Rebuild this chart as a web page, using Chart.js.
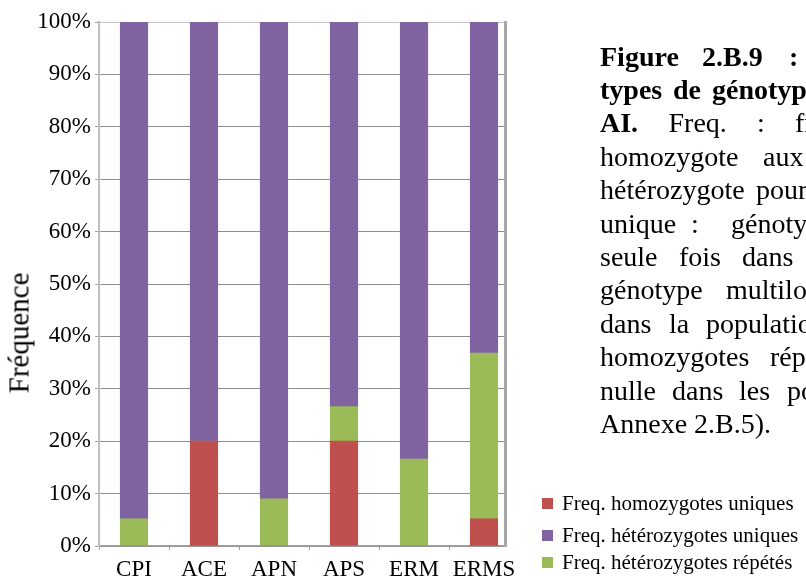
<!DOCTYPE html>
<html><head><meta charset="utf-8">
<script src="https://cdn.jsdelivr.net/npm/chart.js@4.4.0/dist/chart.umd.min.js"></script>
<style>
html,body{margin:0;padding:0;background:#fff;overflow:hidden;}
#wrap{position:relative;width:806px;height:576px;overflow:hidden;font-family:'Liberation Serif','Times New Roman',serif;color:#000;}
#c{position:absolute;left:0;top:0;}
.w{position:absolute;font-size:28px;line-height:28px;white-space:nowrap;}
.b{font-weight:bold;}
#ytitle{position:absolute;font-size:29px;line-height:29px;white-space:nowrap;left:19px;top:333px;transform:translate(-50%,-50%) rotate(-90deg);}
.lbox{position:absolute;width:11px;height:11px;}
.ltxt{position:absolute;font-size:21px;line-height:21px;white-space:nowrap;}
</style></head>
<body>
<div id="wrap">
  <canvas id="c" width="806" height="576"></canvas>
  <div id="ytitle">Fréquence</div>
  <div id="caption"></div>
  <div id="legend"></div>
</div>
<script>
const categories = ['CPI', 'ACE', 'APN', 'APS', 'ERM', 'ERMS'];
const homozygotesUniques   = [0,    20, 0,    20,   0,    5.2];
const heterozygotesRepetes = [5.2,  0,  9.0,  6.6,  16.6, 31.6];
const heterozygotesUniques = [94.8, 80, 91.0, 73.4, 83.4, 63.2];
const yTickLabels = ['0%','10%','20%','30%','40%','50%','60%','70%','80%','90%','100%'];
const seriesLabels = ['Freq. homozygotes uniques', 'Freq. hétérozygotes uniques', 'Freq. hétérozygotes répétés'];
const seriesColors = ['#C0504D', '#8064A2', '#9BBB59'];

const FONT = "'Liberation Serif', 'Times New Roman', serif";
const toPoints = arr => arr.map((v, i) => ({x: i, y: v}));

const datasets = [
  {label: seriesLabels[0], data: toPoints(homozygotesUniques), backgroundColor: seriesColors[0]},
  {label: seriesLabels[2], data: toPoints(heterozygotesRepetes), backgroundColor: seriesColors[2]},
  {label: seriesLabels[1], data: toPoints(heterozygotesUniques), backgroundColor: seriesColors[1]}
];

new Chart(document.getElementById('c'), {
  type: 'bar',
  data: {datasets},
  options: {
    responsive: false,
    animation: false,
    devicePixelRatio: 1,
    layout: {padding: {left: 0, top: 22, right: 301, bottom: 0}},
    plugins: {legend: {display: false}, tooltip: {enabled: false}},
    datasets: {bar: {barThickness: 27.5, borderWidth: 0}},
    scales: {
      x: {
        type: 'linear', stacked: true, min: -0.5, max: 5.3, offset: false, bounds: 'data',
        afterBuildTicks: s => { s.ticks = categories.map((c, i) => ({value: i})); },
        afterFit: s => { s.height = 30; },
        grid: {display: true, offset: true, drawOnChartArea: false, tickLength: 4, tickColor: '#a0a0a0', lineWidth: 1},
        border: {color: '#a0a0a0', width: 1.5},
        ticks: {autoSkip: false, maxRotation: 0, minRotation: 0, padding: 6, color: '#000',
                font: {family: FONT, size: 23},
                callback: v => (categories[v] !== undefined ? categories[v] : '')}
      },
      y: {
        stacked: true, min: 0, max: 100,
        afterFit: s => { s.width = 99; },
        ticks: {stepSize: 10, padding: 4, color: '#000', font: {family: FONT, size: 23},
                callback: (v, i) => yTickLabels[i]},
        grid: {color: c => (c.tick && c.tick.value === 100 ? '#c4c4c4' : '#8e8e8e'), tickLength: 4, lineWidth: 1, tickColor: '#a0a0a0'},
        border: {color: '#c0c0c0', width: 2}
      },
      yRight: {
        position: 'right', min: 0, max: 100,
        afterFit: s => { s.width = 0; },
        ticks: {display: false},
        grid: {display: false, drawTicks: false},
        border: {display: true, color: '#a6a6a6', width: 3}
      }
    }
  }
});

// Legend (HTML), order as in reference
const legend = document.getElementById('legend');
const legendRows = [503, 535, 562];
seriesLabels.forEach((lab, i) => {
  const box = document.createElement('div');
  box.className = 'lbox';
  box.style.left = '542px';
  box.style.top = (legendRows[i] - 5.5) + 'px';
  box.style.background = seriesColors[i];
  legend.appendChild(box);
  const t = document.createElement('div');
  t.className = 'ltxt';
  t.style.left = '562px';
  t.style.top = (legendRows[i] - 10) + 'px';
  t.textContent = lab;
  legend.appendChild(t);
});

// Caption text (justified lines, clipped at right edge)
const captionLines = [
  [['Figure', 600, 1], ['2.B.9', 702, 1], [':', 789, 1]],
  [['types', 600, 1], ['de', 673, 1], ['génotypes', 712, 1]],
  [['AI.', 600, 1], ['Freq.', 668.5, 0], [':', 757, 0], ['fréquence', 795, 0]],
  [['homozygote', 600, 0], ['aux', 763, 0]],
  [['hétérozygote', 600, 0], ['pour', 756, 0]],
  [['unique', 600, 0], [':', 691, 0], ['génotype', 731, 0]],
  [['seule', 600, 0], ['fois', 679, 0], ['dans', 742, 0]],
  [['génotype', 600, 0], ['multilocus', 726, 0]],
  [['dans', 600, 0], ['la', 669, 0], ['population', 706, 0]],
  [['homozygotes', 600, 0], ['répétés', 770, 0]],
  [['nulle', 600, 0], ['dans', 672, 0], ['les', 739, 0], ['populations', 787, 0]],
  [['Annexe 2.B.5).', 600, 0]]
];
const cap = document.getElementById('caption');
captionLines.forEach((line, k) => {
  const baseline = 66 + 33.4 * k;
  line.forEach(([txt, x, b]) => {
    const s = document.createElement('div');
    s.className = 'w' + (b ? ' b' : '');
    s.style.left = x + 'px';
    s.style.top = (baseline - 23.45) + 'px';
    s.textContent = txt;
    cap.appendChild(s);
  });
});
</script>
</body></html>
